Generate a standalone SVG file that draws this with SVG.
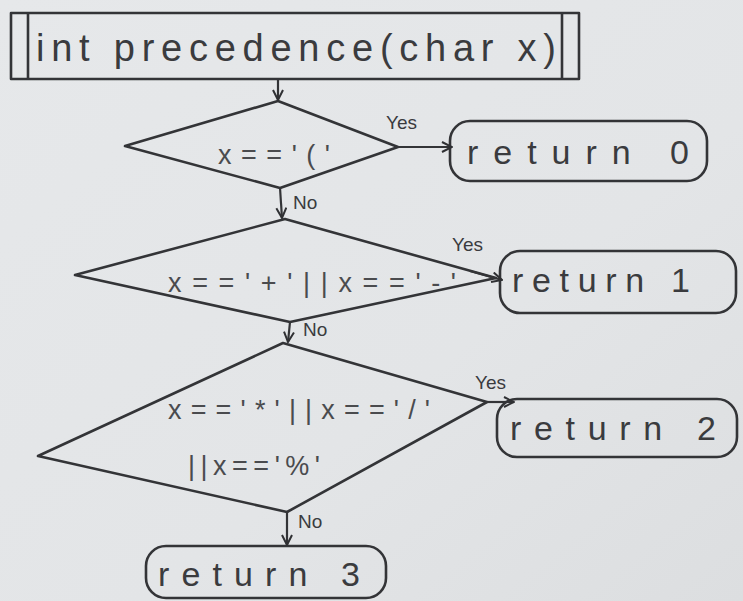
<svg xmlns="http://www.w3.org/2000/svg" width="743" height="601" viewBox="0 0 743 601">
  <defs>
    <linearGradient id="paper" x1="0" y1="0" x2="1" y2="1">
      <stop offset="0" stop-color="#e6e8ea"/>
      <stop offset="0.6" stop-color="#e3e5e7"/>
      <stop offset="1" stop-color="#dcdee0"/>
    </linearGradient>
    <marker id="arrow" viewBox="0 0 12 12" refX="11" refY="6" markerWidth="12" markerHeight="12" markerUnits="userSpaceOnUse" orient="auto">
      <path d="M1,1 L11,6 L1,11" fill="none" stroke="#2f3033" stroke-width="2"/>
    </marker>
    <style>
      .shape { fill: none; stroke: #333437; stroke-width: 2.6; stroke-linejoin: round; }
      .edge { fill: none; stroke: #333437; stroke-width: 2.2; marker-end: url(#arrow); }
      .txt { font-family: "Liberation Sans", "DejaVu Sans", sans-serif; fill: #3a3b3e; }
      .big { font-size: 38px; }
      .ret { font-size: 34px; }
      .cond { font-size: 27px; fill: #4a4b4e; }
      .lbl { font-size: 19px; }
    </style>
  </defs>

  <rect x="0" y="0" width="743" height="601" fill="url(#paper)"/>

  <!-- function header: predefined-process box -->
  <g id="start">
    <rect class="shape" x="11" y="13" width="568" height="66"/>
    <line class="shape" x1="28" y1="13" x2="28" y2="79"/>
    <line class="shape" x1="562" y1="13" x2="562" y2="79"/>
    <text class="txt big" x="36" y="61" textLength="520">int precedence(char x)</text>
  </g>

  <!-- decision 1 -->
  <g id="dec1">
    <polygon class="shape" points="125,146 278,101 398,147 280,188"/>
    <text class="txt cond" x="218" y="164" textLength="112">x=='('</text>
  </g>

  <g id="ret0">
    <rect class="shape" x="450" y="121" width="257" height="60" rx="20"/>
    <text class="txt ret" x="467" y="164" textLength="222">return  0</text>
  </g>

  <!-- decision 2 -->
  <g id="dec2">
    <polygon class="shape" points="75,275 285,219 496,278 290,322"/>
    <text class="txt cond" x="168" y="292" textLength="288">x=='+'||x=='-'</text>
  </g>

  <g id="ret1">
    <rect class="shape" x="500" y="251" width="236" height="62" rx="20"/>
    <text class="txt ret" x="512" y="292" textLength="178">return  1</text>
  </g>

  <!-- decision 3 -->
  <g id="dec3">
    <polygon class="shape" points="38,456 283,343 487,402 287,512"/>
    <text class="txt cond" x="168" y="419" textLength="262">x=='*'||x=='/'</text>
    <text class="txt cond" x="188" y="475" textLength="132">||x=='%'</text>
  </g>

  <g id="ret2">
    <rect class="shape" x="497" y="399" width="240" height="58" rx="20"/>
    <text class="txt ret" x="510" y="440" textLength="206">return  2</text>
  </g>

  <g id="ret3">
    <rect class="shape" x="146" y="546" width="240" height="52" rx="20"/>
    <text class="txt ret" x="158" y="586" textLength="202">return 3</text>
  </g>

  <!-- connectors -->
  <g id="connectors">
    <line class="edge" x1="278" y1="80" x2="278" y2="100"/>
    <line class="edge" x1="398" y1="147" x2="452" y2="147"/>
    <line class="edge" x1="280" y1="188" x2="282" y2="218"/>
    <line class="edge" x1="470" y1="271" x2="502" y2="280"/>
    <line class="edge" x1="290" y1="322" x2="288" y2="342"/>
    <line class="edge" x1="487" y1="402" x2="514" y2="402"/>
    <line class="edge" x1="287" y1="512" x2="287" y2="545"/>
    <text class="txt lbl" x="386" y="129">Yes</text>
    <text class="txt lbl" x="293" y="209">No</text>
    <text class="txt lbl" x="452" y="251">Yes</text>
    <text class="txt lbl" x="303" y="336">No</text>
    <text class="txt lbl" x="475" y="389">Yes</text>
    <text class="txt lbl" x="298" y="528">No</text>
  </g>
</svg>
